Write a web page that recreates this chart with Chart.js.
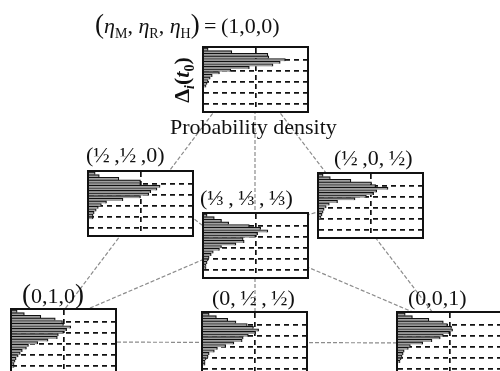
<!DOCTYPE html>
<html>
<head>
<meta charset="utf-8">
<script src="https://cdn.jsdelivr.net/npm/chart.js@4.4.1/dist/chart.umd.min.js"></script>
<style>
  body { margin: 0; background: #fff; }
  #fig { position: relative; width: 500px; height: 371px; overflow: hidden;
         font-family: "Liberation Serif", "Times New Roman", serif; font-size: 22px; color: #111; }
  #links { position: absolute; left: 0; top: 0; }
  .panel { position: absolute; width: 107px; height: 67px; border: 2px solid #111;
           box-sizing: border-box; background: #fff; }
  .panel canvas { display: block; }
  .lbl { position: absolute; white-space: nowrap; line-height: 22px; }
  .lbl sub { font-size: 14px; vertical-align: -5px; line-height: 0; }
  .bp { font-size: 27px; }
</style>
</head>
<body>
<div id="fig">
  <canvas id="links" width="500" height="371"></canvas>
</div>
<script>
// histogram bins (top of the box = first bin)
var binLabels = ['b1','b2','b3','b4','b5','b6','b7','b8','b9','b10','b11','b12',
                 'b13','b14','b15','b16','b17','b18','b19','b20','b21','b22','b23','b24']

// probability density per bin, relative to the x range of a panel
var histM   = [0.04, 0.27, 0.62, 0.63, 0.79, 0.74, 0.67, 0.44, 0.26, 0.15, 0.08, 0.06, 0.04, 0.03, 0.02]
var histMR  = [0.06, 0.10, 0.29, 0.50, 0.50, 0.69, 0.66, 0.60, 0.58, 0.50, 0.33, 0.17, 0.12, 0.09, 0.07, 0.05, 0.04, 0.04]
var histMH  = [0.04, 0.11, 0.31, 0.51, 0.55, 0.67, 0.56, 0.53, 0.46, 0.35, 0.18, 0.10, 0.07, 0.05, 0.04, 0.03, 0.02]
var histMRH = [0.03, 0.10, 0.17, 0.24, 0.44, 0.55, 0.62, 0.52, 0.50, 0.38, 0.39, 0.31, 0.17, 0.15, 0.09, 0.07, 0.05, 0.04, 0.03, 0.02, 0.02]
var histR   = [0.05, 0.12, 0.28, 0.42, 0.49, 0.50, 0.57, 0.53, 0.50, 0.45, 0.44, 0.35, 0.25, 0.16, 0.14, 0.10, 0.08, 0.06, 0.04, 0.03, 0.02, 0.02]
var histRH  = [0.06, 0.13, 0.24, 0.32, 0.43, 0.49, 0.54, 0.51, 0.44, 0.39, 0.38, 0.30, 0.22, 0.14, 0.11, 0.06, 0.05, 0.03, 0.02, 0.02]
var histH   = [0.07, 0.14, 0.30, 0.44, 0.48, 0.52, 0.53, 0.50, 0.44, 0.41, 0.33, 0.24, 0.12, 0.10, 0.06, 0.05, 0.04, 0.03, 0.02]

// dashed reference levels
var deltaTicks = [1, 2, 3, 4]
var densityTicks = [0.5]

// layout of the panels (px)
var panels = [
    { id: 'pM',   hist: histM,   left: 202, top: 46,  label: null },
    { id: 'pMR',  hist: histMR,  left: 87,  top: 170, label: { x: 86,  y: 144, html: '(½&thinsp;,½&thinsp;,0)' } },
    { id: 'pMH',  hist: histMH,  left: 317, top: 172, label: { x: 334, y: 147, html: '(½&thinsp;,0,&thinsp;½)' } },
    { id: 'pMRH', hist: histMRH, left: 202, top: 212, label: { x: 200, y: 187, html: '(⅓&thinsp;,&thinsp;⅓&thinsp;,&thinsp;⅓)' } },
    { id: 'pR',   hist: histR,   left: 10,  top: 308, label: { x: 22,  y: 283, html: '<span class="bp">(</span>0,1,0<span class="bp">)</span>' } },
    { id: 'pRH',  hist: histRH,  left: 201, top: 311, label: { x: 212, y: 287, html: '(0,&thinsp;½&thinsp;,&thinsp;½)' } },
    { id: 'pH',   hist: histH,   left: 396, top: 311, label: { x: 408, y: 287, html: '(0,0,1)' } }
]

// grey dashed connectors between panels, [x1, y1, x2, y2]
var links = [
    [238, 80, 40, 342],
    [255, 80, 456, 343],
    [63, 342, 450, 343],
    [255, 80, 255, 344],
    [237, 245, 11, 342],
    [256, 245, 485, 343],
    [185, 212, 215, 235],
    [300, 217, 325, 210]
]

var fig = document.getElementById('fig')

var draw = {

    label: function (x, y, html, extra) {
        var d = document.createElement('div')
        d.className = 'lbl'
        d.style.left = x + 'px'
        d.style.top = y + 'px'
        if (extra) d.style.cssText += extra
        d.innerHTML = html
        fig.appendChild(d)
        return d
    },

    links: function () {
        new Chart(document.getElementById('links'), {
            type: 'scatter',
            data: {
                datasets: links.map(function (l) {
                    return {
                        data: [{ x: l[0], y: l[1] }, { x: l[2], y: l[3] }],
                        showLine: true,
                        pointRadius: 0,
                        borderColor: '#8c8c8c',
                        borderWidth: 1.2,
                        borderDash: [4, 2]
                    }
                })
            },
            options: {
                responsive: false,
                animation: false,
                layout: { padding: 0 },
                plugins: { legend: { display: false }, tooltip: { enabled: false } },
                scales: {
                    x: { type: 'linear', min: 0, max: 500, display: false },
                    y: { type: 'linear', min: 0, max: 371, reverse: true, display: false }
                }
            }
        })
    },

    panel: function (p) {
        var box = document.createElement('div')
        box.className = 'panel'
        box.style.left = p.left + 'px'
        box.style.top = p.top + 'px'
        box.innerHTML = `<canvas id="${p.id}" width="103" height="63"></canvas>`
        fig.appendChild(box)

        var grid = { color: '#111', lineWidth: 1.7, drawTicks: false }

        new Chart(document.getElementById(p.id), {
            type: 'bar',
            data: {
                labels: binLabels,
                datasets: [{
                    data: p.hist,
                    backgroundColor: '#a0a0a0',
                    borderColor: '#111',
                    borderWidth: { top: 1.1, right: 1.2, bottom: 0, left: 0 },
                    borderSkipped: false,
                    barPercentage: 1,
                    categoryPercentage: 1
                }]
            },
            options: {
                indexAxis: 'y',
                responsive: false,
                animation: false,
                layout: { padding: 0 },
                plugins: { legend: { display: false }, tooltip: { enabled: false } },
                scales: {
                    y: { type: 'category', display: false },
                    yg: {
                        type: 'linear', position: 'left', min: 0.13, max: 4.43, reverse: true,
                        afterBuildTicks: function (axis) { axis.ticks = deltaTicks.map(v => ({ value: v })) },
                        ticks: { display: false },
                        grid: grid,
                        border: { display: false, dash: [5, 4] }
                    },
                    x: {
                        type: 'linear', min: 0, max: 1,
                        afterBuildTicks: function (axis) { axis.ticks = densityTicks.map(v => ({ value: v })) },
                        ticks: { display: false },
                        grid: grid,
                        border: { display: false, dash: [5, 4] }
                    }
                }
            }
        })

        if (p.label) draw.label(p.label.x, p.label.y, p.label.html)
    }
}

draw.links()
panels.forEach(draw.panel)

draw.label(95, 13, '<span class="bp">(</span><i>η</i><sub>M</sub>, <i>η</i><sub>R</sub>, <i>η</i><sub>H</sub><span class="bp">)</span>&thinsp;=&thinsp;(1,0,0)')
draw.label(170, 116, 'Probability density')
draw.label(182, 80, '<b>Δ<sub><i>i</i></sub>(<i>t</i><sub>0</sub>)</b>',
    'transform: translate(-50%, -50%) rotate(-90deg);')
</script>
</body>
</html>
